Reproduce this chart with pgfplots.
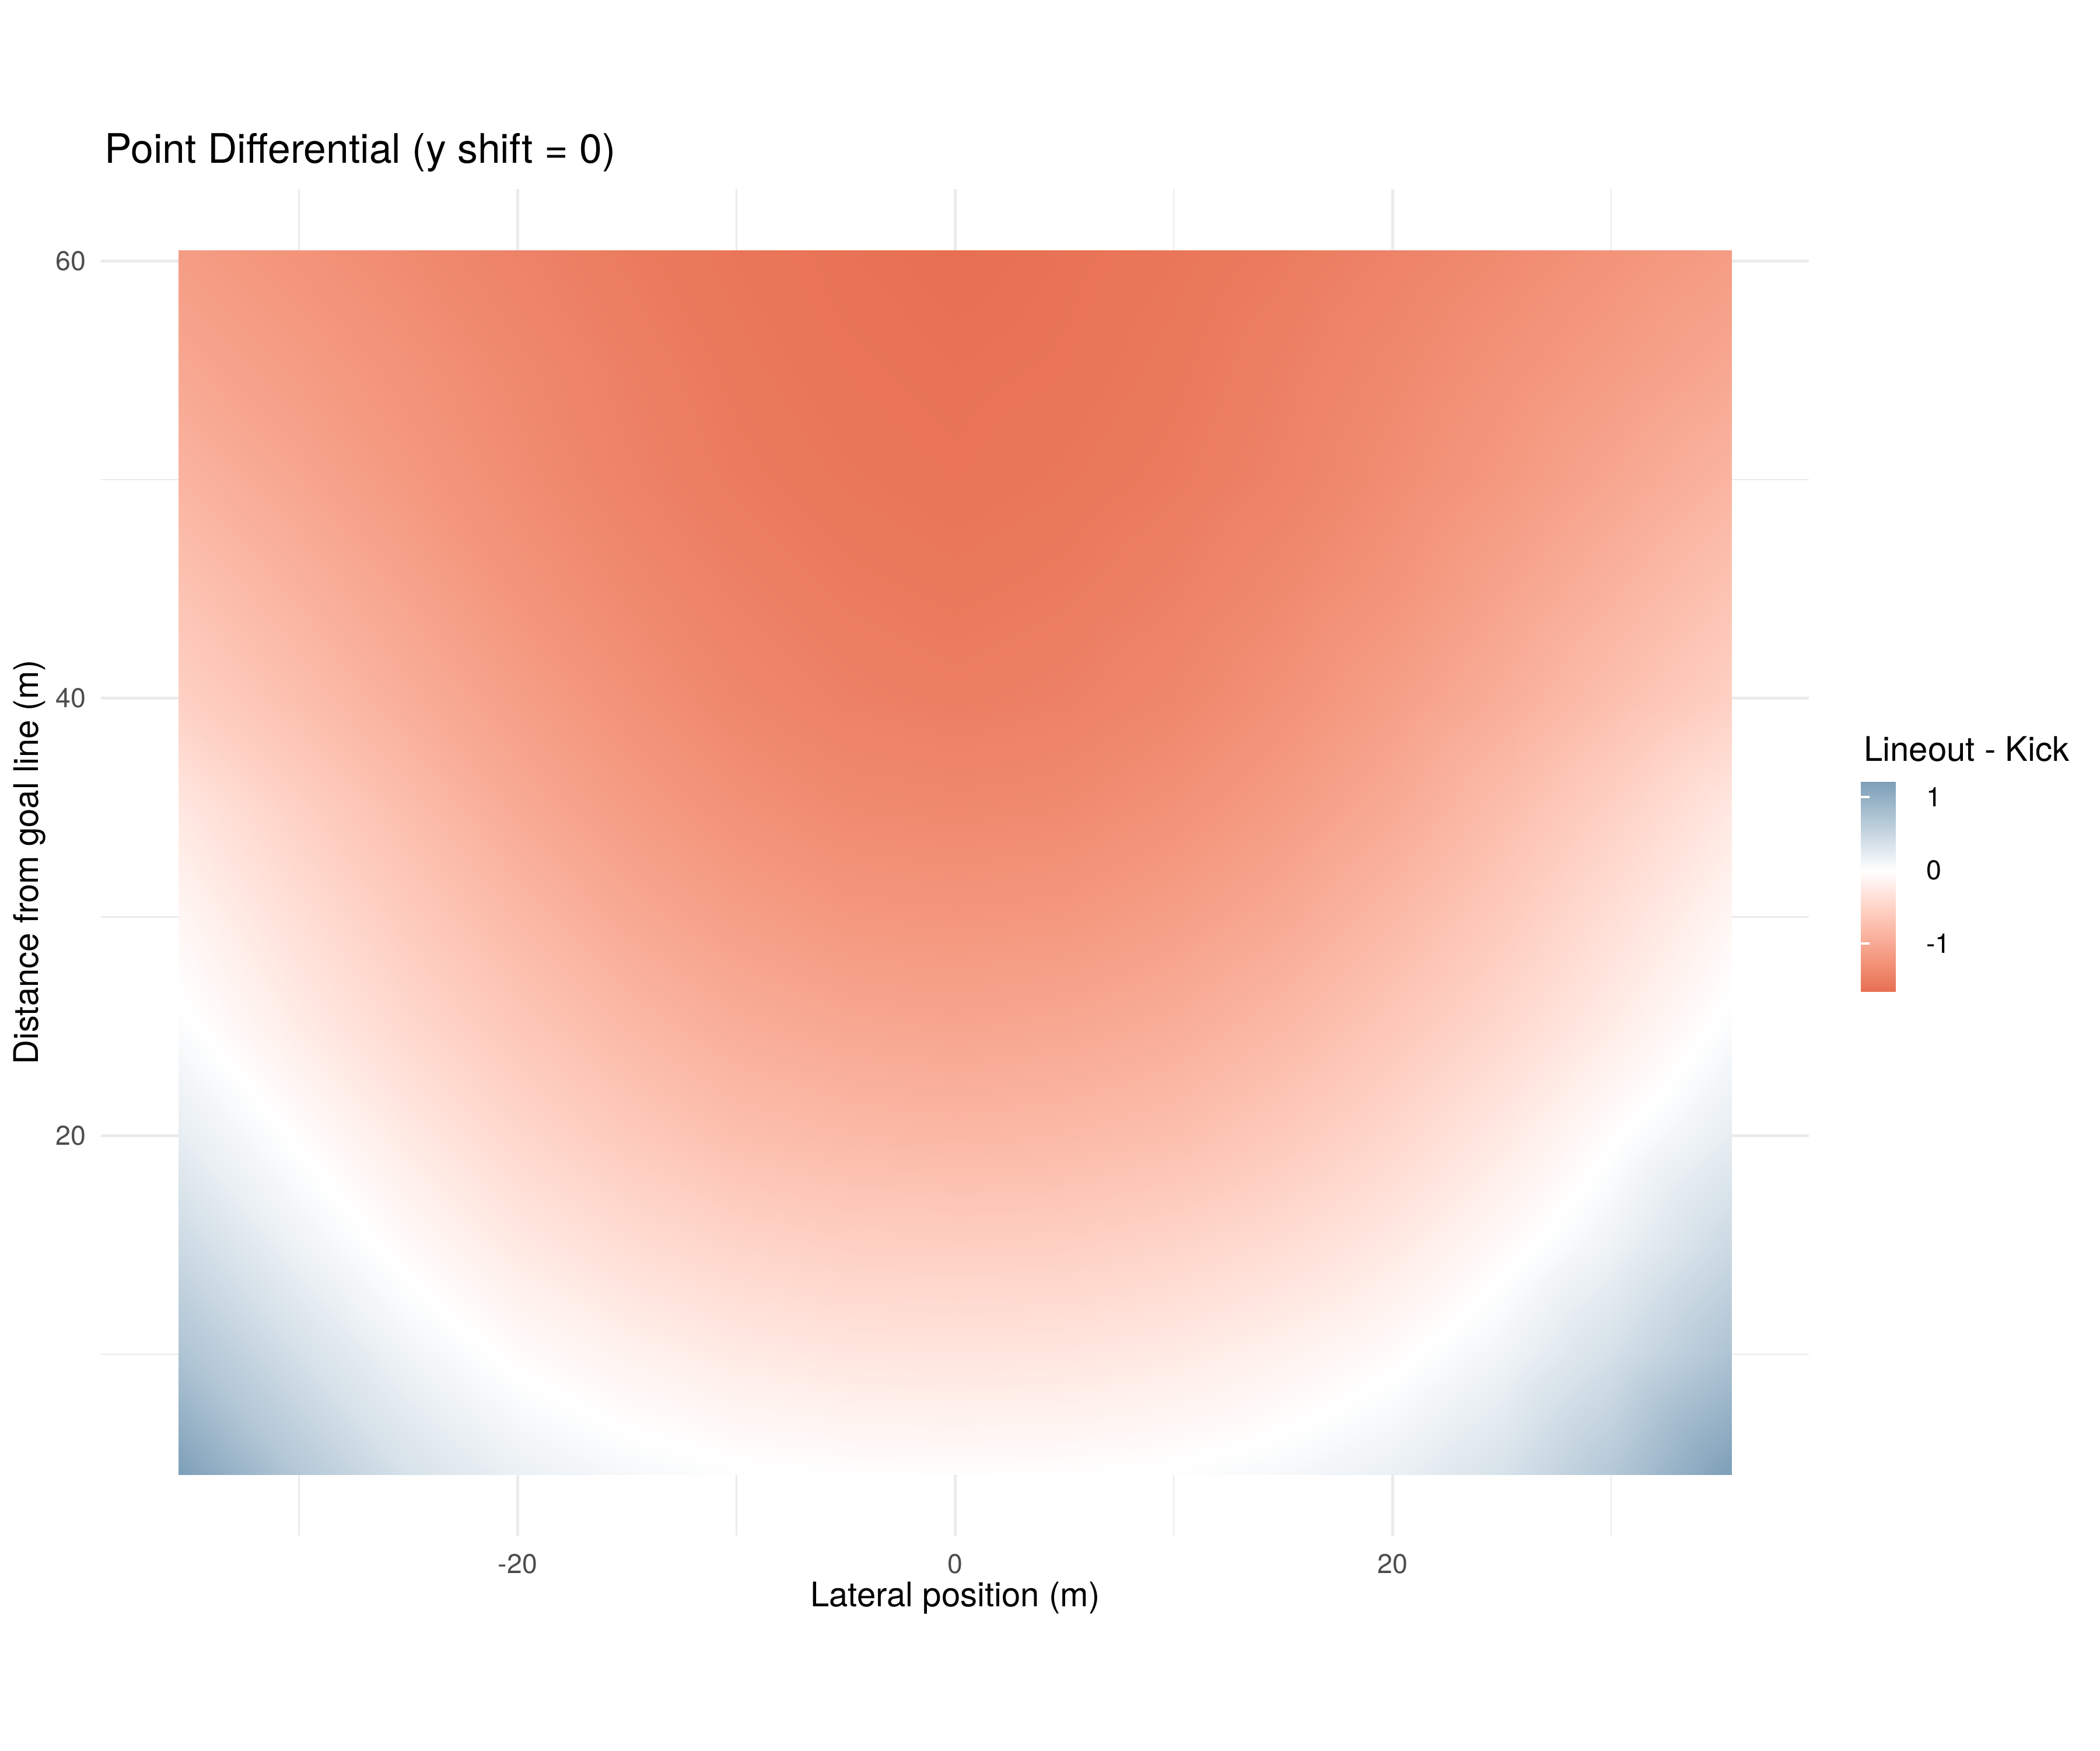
\documentclass[border=0pt]{standalone}
\usepackage{fontspec}
\setmainfont{TeX Gyre Heros}
\usepackage{pgfplots}
\usepackage{pgfplotstable}
\pgfplotsset{compat=1.18}

\definecolor{gridgrey}{HTML}{EBEBEB}
\definecolor{ticktext}{HTML}{4D4D4D}

% lateral position x, distance y, lineout - kick value
\pgfplotstableread[row sep=\\]{
x y v\\
-35.5 4.5 1.20\\ -30 4.5 0.68\\ -25 4.5 0.36\\ -20 4.5 0.18\\ -15 4.5 0.08\\ -10 4.5 0.02\\ -5 4.5 -0.01\\ 0 4.5 -0.02\\ 5 4.5 -0.01\\ 10 4.5 0.02\\ 15 4.5 0.08\\ 20 4.5 0.18\\ 25 4.5 0.36\\ 30 4.5 0.68\\ 35.5 4.5 1.20\\
-35.5 10 0.74\\ -30 10 0.38\\ -25 10 0.13\\ -20 10 -0.04\\ -15 10 -0.15\\ -10 10 -0.24\\ -5 10 -0.29\\ 0 10 -0.30\\ 5 10 -0.29\\ 10 10 -0.24\\ 15 10 -0.15\\ 20 10 -0.04\\ 25 10 0.13\\ 30 10 0.38\\ 35.5 10 0.74\\
-35.5 15 0.46\\ -30 15 0.15\\ -25 15 -0.06\\ -20 15 -0.25\\ -15 15 -0.39\\ -10 15 -0.49\\ -5 15 -0.55\\ 0 15 -0.56\\ 5 15 -0.55\\ 10 15 -0.49\\ 15 15 -0.39\\ 20 15 -0.25\\ 25 15 -0.06\\ 30 15 0.15\\ 35.5 15 0.46\\
-35.5 20 0.22\\ -30 20 -0.02\\ -25 20 -0.25\\ -20 20 -0.46\\ -15 20 -0.62\\ -10 20 -0.75\\ -5 20 -0.81\\ 0 20 -0.84\\ 5 20 -0.81\\ 10 20 -0.75\\ 15 20 -0.62\\ 20 20 -0.46\\ 25 20 -0.25\\ 30 20 -0.02\\ 35.5 20 0.22\\
-35.5 25 0.04\\ -30 25 -0.22\\ -25 25 -0.45\\ -20 25 -0.65\\ -15 25 -0.82\\ -10 25 -0.95\\ -5 25 -1.02\\ 0 25 -1.05\\ 5 25 -1.02\\ 10 25 -0.95\\ 15 25 -0.82\\ 20 25 -0.65\\ 25 25 -0.45\\ 30 25 -0.22\\ 35.5 25 0.04\\
-35.5 30 -0.10\\ -30 30 -0.37\\ -25 30 -0.61\\ -20 30 -0.82\\ -15 30 -1.00\\ -10 30 -1.12\\ -5 30 -1.20\\ 0 30 -1.22\\ 5 30 -1.20\\ 10 30 -1.12\\ 15 30 -1.00\\ 20 30 -0.82\\ 25 30 -0.61\\ 30 30 -0.37\\ 35.5 30 -0.10\\
-35.5 35 -0.27\\ -30 35 -0.54\\ -25 35 -0.77\\ -20 35 -0.99\\ -15 35 -1.15\\ -10 35 -1.27\\ -5 35 -1.35\\ 0 35 -1.37\\ 5 35 -1.35\\ 10 35 -1.27\\ 15 35 -1.15\\ 20 35 -0.99\\ 25 35 -0.77\\ 30 35 -0.54\\ 35.5 35 -0.27\\
-35.5 40 -0.54\\ -30 40 -0.75\\ -25 40 -0.95\\ -20 40 -1.12\\ -15 40 -1.27\\ -10 40 -1.39\\ -5 40 -1.46\\ 0 40 -1.49\\ 5 40 -1.46\\ 10 40 -1.39\\ 15 40 -1.27\\ 20 40 -1.12\\ 25 40 -0.95\\ 30 40 -0.75\\ 35.5 40 -0.54\\
-35.5 45 -0.70\\ -30 45 -0.90\\ -25 45 -1.07\\ -20 45 -1.24\\ -15 45 -1.36\\ -10 45 -1.46\\ -5 45 -1.52\\ 0 45 -1.55\\ 5 45 -1.52\\ 10 45 -1.46\\ 15 45 -1.36\\ 20 45 -1.24\\ 25 45 -1.07\\ 30 45 -0.90\\ 35.5 45 -0.70\\
-35.5 50 -0.87\\ -30 50 -1.04\\ -25 50 -1.19\\ -20 50 -1.32\\ -15 50 -1.44\\ -10 50 -1.52\\ -5 50 -1.57\\ 0 50 -1.60\\ 5 50 -1.57\\ 10 50 -1.52\\ 15 50 -1.44\\ 20 50 -1.32\\ 25 50 -1.19\\ 30 50 -1.04\\ 35.5 50 -0.87\\
-35.5 55 -1.02\\ -30 55 -1.15\\ -25 55 -1.26\\ -20 55 -1.37\\ -15 55 -1.47\\ -10 55 -1.55\\ -5 55 -1.60\\ 0 55 -1.62\\ 5 55 -1.60\\ 10 55 -1.55\\ 15 55 -1.47\\ 20 55 -1.37\\ 25 55 -1.26\\ 30 55 -1.15\\ 35.5 55 -1.02\\
-35.5 60.5 -1.15\\ -30 60.5 -1.25\\ -25 60.5 -1.35\\ -20 60.5 -1.44\\ -15 60.5 -1.52\\ -10 60.5 -1.58\\ -5 60.5 -1.62\\ 0 60.5 -1.65\\ 5 60.5 -1.62\\ 10 60.5 -1.58\\ 15 60.5 -1.52\\ 20 60.5 -1.44\\ 25 60.5 -1.35\\ 30 60.5 -1.25\\ 35.5 60.5 -1.15\\
}\pdiff

\begin{document}
\begin{tikzpicture}
\path[use as bounding box] (-41.7pt,-88.7pt) rectangle (825.5pt,634pt);
\begin{axis}[
  at={(0,0)}, anchor=south west,
  scale only axis, width=705.4pt, height=556pt,
  xmin=-39.05, xmax=39.05, ymin=1.7, ymax=63.3,
  xtick={-20,0,20}, ytick={20,40,60},
  minor xtick={-30,-10,10,30}, minor ytick={10,30,50},
  grid=both,
  major grid style={gridgrey, line width=1.2pt},
  minor grid style={gridgrey, line width=0.6pt},
  axis line style={draw=none},
  major tick length=0pt, minor tick length=0pt,
  tick label style={font=\fontsize{11.2}{13}\selectfont, text=ticktext, inner sep=0pt},
  xticklabel style={anchor=center, yshift=-11.6pt},
  yticklabel style={anchor=east, xshift=-6pt},
  /pgf/number format/assume math mode=true,
  xlabel={Lateral position (m)}, ylabel={Distance from goal line (m)},
  every axis x label/.style={at={(rel axis cs:0.5,0)}, anchor=center, yshift=-25.8pt, font=\fontsize{14}{16}\selectfont},
  every axis y label/.style={at={(rel axis cs:0,0.5)}, anchor=center, xshift=-29.6pt, rotate=90, font=\fontsize{14}{16}\selectfont},
  colormap={pdiff}{rgb255(0pt)=(231,111,81) rgb255(41.5pt)=(243,148,122) rgb255(83pt)=(251,184,165) rgb255(124.5pt)=(255,219,209) rgb255(166pt)=(255,255,255) rgb255(226.5pt)=(188,206,219) rgb255(287pt)=(124,158,184)},
  point meta min=-1.66, point meta max=1.21,
  colorbar,
  colorbar style={
    at={(1.0304,0.5598)}, anchor=north west,
    scale only axis, width=18.3pt, height=86.7pt,
    ytick={-1,0,1}, xtick=\empty,
    yticklabel pos=right, ytick pos=both,
    tick align=inside, major tick length=3.6pt,
    every tick/.style={white, line width=0.9pt},
    axis line style={draw=none},
    /pgf/number format/assume math mode=true,
    yticklabel style={font=\fontsize{11.2}{13}\selectfont, text=black, inner sep=0pt, anchor=west, xshift=8.4pt},
  },
]
\addplot[surf, shader=interp, mesh/cols=15, point meta=explicit]
  table[x=x, y=y, meta=v] {\pdiff};
\end{axis}
\node[anchor=base west, inner sep=0pt, font=\fontsize{16.8}{19}\selectfont] at (1.4pt,566.6pt) {Point Differential (y shift = 0)};
\node[anchor=base west, inner sep=0pt, font=\fontsize{14}{16}\selectfont] at (727.8pt,319.8pt) {Lineout - Kick};
\end{tikzpicture}
\end{document}
